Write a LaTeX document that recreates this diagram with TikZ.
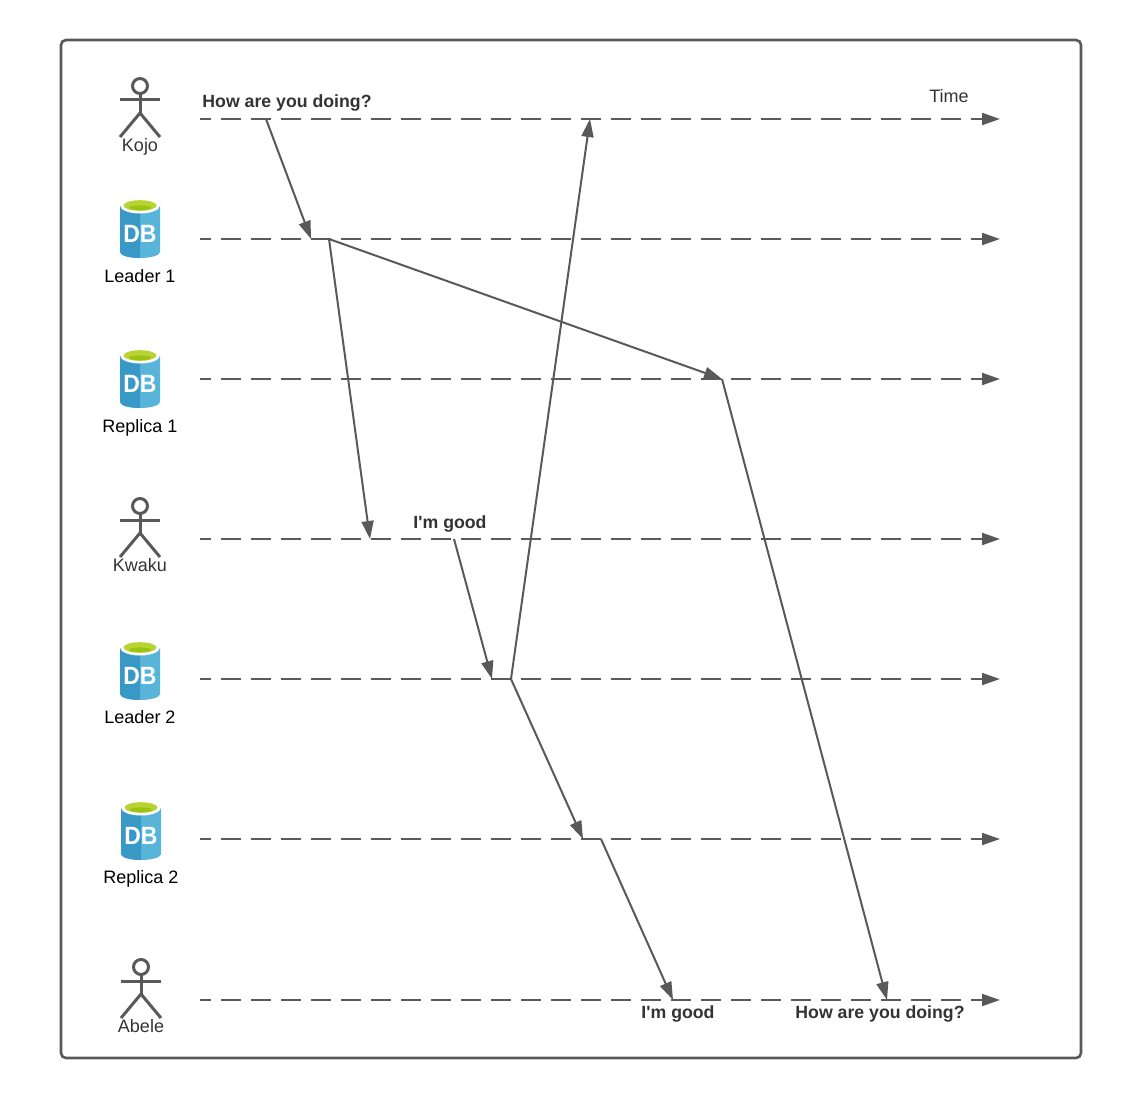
\documentclass[tikz,border=0pt]{standalone}
\usepackage{fontspec}
\setmainfont{Liberation Sans}
\usetikzlibrary{arrows.meta,calc,positioning}
\definecolor{linegray}{HTML}{595959}
\definecolor{textgray}{HTML}{333333}
\definecolor{dbleft}{HTML}{3999C6}
\definecolor{dbright}{HTML}{59B4D9}
\definecolor{dbtop}{HTML}{B8D432}
\definecolor{dbtopdark}{HTML}{9CC212}

\begin{document}
\begin{tikzpicture}[x=1pt,y=-1pt,>={Triangle[length=18pt,width=12pt]},
    timeline/.style={draw=linegray,line width=2pt,dash pattern=on 20pt off 10pt,dash phase=9pt,->},
    msg/.style={draw=linegray,line width=2pt,->},
    who/.style={font=\fontsize{18}{20}\selectfont,inner sep=0pt,anchor=base},
    said/.style={font=\fontsize{17.7}{20}\selectfont\bfseries,text=textgray,inner sep=0pt,anchor=base}]
  \newcommand{\stickman}{
    \draw[linegray,line width=3pt] (0,-33) circle (7.5);
    \draw[linegray,line width=3pt] (0,-25.5) -- (0,-6);
    \draw[linegray,line width=3pt] (-20,-19) -- (20,-19);
    \draw[linegray,line width=3pt] (-20,18) -- (0,-6) -- (20,18);
  }
  \newcommand{\dbcan}{
    \fill[dbright] (-20,-23) -- (20,-23) -- (20,23) arc (0:180:20 and 6) -- cycle;
    \fill[dbleft] (-20,-23) -- (0,-23) -- (0,29) arc (90:180:20 and 6) -- cycle;
    \fill[white] (0,-23.5) ellipse (20 and 8);
    \fill[dbtop] (0,-23.5) ellipse (16.5 and 5.3);
    \fill[dbtopdark] (0,-21.2) ellipse (11 and 2.4);
    \node[font=\fontsize{25}{25}\selectfont\bfseries,text=white,inner sep=0pt,xscale=0.92] at (0,5) {DB};
  }

  \node[draw=linegray,line width=2.6pt,rounded corners=5pt,outer sep=0pt,minimum width=1020pt,minimum height=1018pt,anchor=north west] (frame) at (61,40) {};

  % icons on the left
  \begin{scope}[shift={(140,119)}]
    \stickman
  \end{scope}
  \node[who,text=textgray] (kojo) at (140,151.5) {Kojo};
  \begin{scope}[shift={(140,229)}]
    \dbcan
  \end{scope}
  \node[who] (leader1) at (140,282) {Leader 1};
  \begin{scope}[shift={(140,379)}]
    \dbcan
  \end{scope}
  \node[who] (replica1) at (140,432) {Replica 1};
  \begin{scope}[shift={(140,539)}]
    \stickman
  \end{scope}
  \node[who,text=textgray] (kwaku) at (140,571) {Kwaku};
  \begin{scope}[shift={(140,671)}]
    \dbcan
  \end{scope}
  \node[who] (leader2) at (140,723) {Leader 2};
  \begin{scope}[shift={(141,831)}]
    \dbcan
  \end{scope}
  \node[who] (replica2) at (141,883) {Replica 2};
  \begin{scope}[shift={(141,1000)}]
    \stickman
  \end{scope}
  \node[who,text=textgray] (abele) at (141,1032) {Abele};

  % time lines
  \foreach \name/\y in {kojo/119,leadera/239,replicaa/379,kwaku/539,leaderb/679,replicab/839,abele/1000} {
    \coordinate (\name start) at (200,\y);
    \coordinate (\name end) at (1000,\y);
    \draw[timeline] (\name start) -- (\name end);
  }
  \node[who,text=textgray] (time) at (949,102.5) {Time};

  % points where a message leaves or lands
  \coordinate (ask) at (266,119);
  \coordinate (lain) at (311,239);
  \coordinate (laout) at (329,239);
  \coordinate (ra) at (722,379);
  \coordinate (kw) at (370,539);
  \coordinate (reply) at (454,539);
  \coordinate (lbin) at (492,679);
  \coordinate (lbout) at (511,679);
  \coordinate (back) at (590,119);
  \coordinate (rbin) at (583,839);
  \coordinate (rbout) at (601,839);
  \coordinate (abgood) at (673,1000);
  \coordinate (abask) at (887,1000);

  \draw[msg] (ask) -- (lain);
  \draw[msg] (laout) -- (kw);
  \draw[msg] (laout) -- (ra);
  \draw[msg] (ra) -- (abask);
  \draw[msg] (reply) -- (lbin);
  \draw[msg] (lbout) -- (back);
  \draw[msg] (lbout) -- (rbin);
  \draw[msg] (rbout) -- (abgood);

  \node[said] (howa) at (287,108) {How are you doing?};
  \node[said] (gooda) at (450,528) {I\textquotesingle m good};
  \node[said] (goodb) at (678,1018) {I\textquotesingle m good};
  \node[said] (howb) at (880,1018) {How are you doing?};

  \useasboundingbox (0,0) rectangle (1121,1099);
\end{tikzpicture}
\end{document}
